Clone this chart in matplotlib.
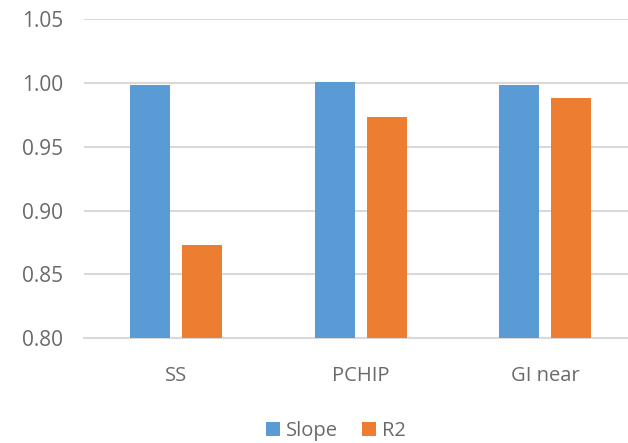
import matplotlib
matplotlib.use("Agg")
import matplotlib.pyplot as plt
import numpy as np

categories = ["SS", "PCHIP", "GI near"]
slope = [0.998, 1.001, 0.998]
r2 = [0.873, 0.973, 0.988]
y_ticks = [0.80, 0.85, 0.90, 0.95, 1.00, 1.05]

BLUE = "#5B9BD5"
ORANGE = "#ED7D31"
TEXT = "#6A6A6A"
GRID = "#D9D9D9"

plt.rcParams["font.family"] = ["Open Sans", "DejaVu Sans"]

W, H = 628, 443
fig = plt.figure(figsize=(W / 100, H / 100), dpi=100)
left_px, right_px = 84, 628
bottom_px, top_px = 338.3, 19
ax = fig.add_axes([left_px / W, (H - bottom_px) / H,
                   (right_px - left_px) / W, (bottom_px - top_px) / H])

x = np.arange(len(categories))
width = 0.217
offset = 0.141
b1 = ax.bar(x - offset, [v - 0.80 for v in slope], width, bottom=0.80,
            color=BLUE, label="Slope", zorder=3)
b2 = ax.bar(x + offset, [v - 0.80 for v in r2], width, bottom=0.80,
            color=ORANGE, label="R2", zorder=3)

ax.set_xlim(-0.5, 2.448)
ax.set_ylim(0.80, 1.05)
ax.set_yticks(y_ticks)
ax.set_yticklabels([f"{t:.2f}" for t in y_ticks])
ax.set_xticks(x)
ax.set_xticklabels(categories)
ax.yaxis.grid(True, color=GRID, linewidth=1.5, zorder=0)
ax.set_axisbelow(True)
for s in ["top", "right", "left"]:
    ax.spines[s].set_visible(False)
ax.spines["bottom"].set_color(GRID)
ax.spines["bottom"].set_linewidth(1.5)
ax.tick_params(axis="both", length=0, colors=TEXT)
ax.tick_params(axis="y", labelsize=15, pad=15)
ax.tick_params(axis="x", labelsize=14.5, pad=20)

leg = fig.legend(handles=[b1, b2], loc="center", bbox_to_anchor=(336 / W, 1 - 431 / H),
                 ncol=2, frameon=False, fontsize=14.5, handlelength=0.7, handleheight=0.7,
                 handletextpad=0.3, columnspacing=1.2)
for t in leg.get_texts():
    t.set_color(TEXT)

fig.savefig("out.png", dpi=100, facecolor="white")
